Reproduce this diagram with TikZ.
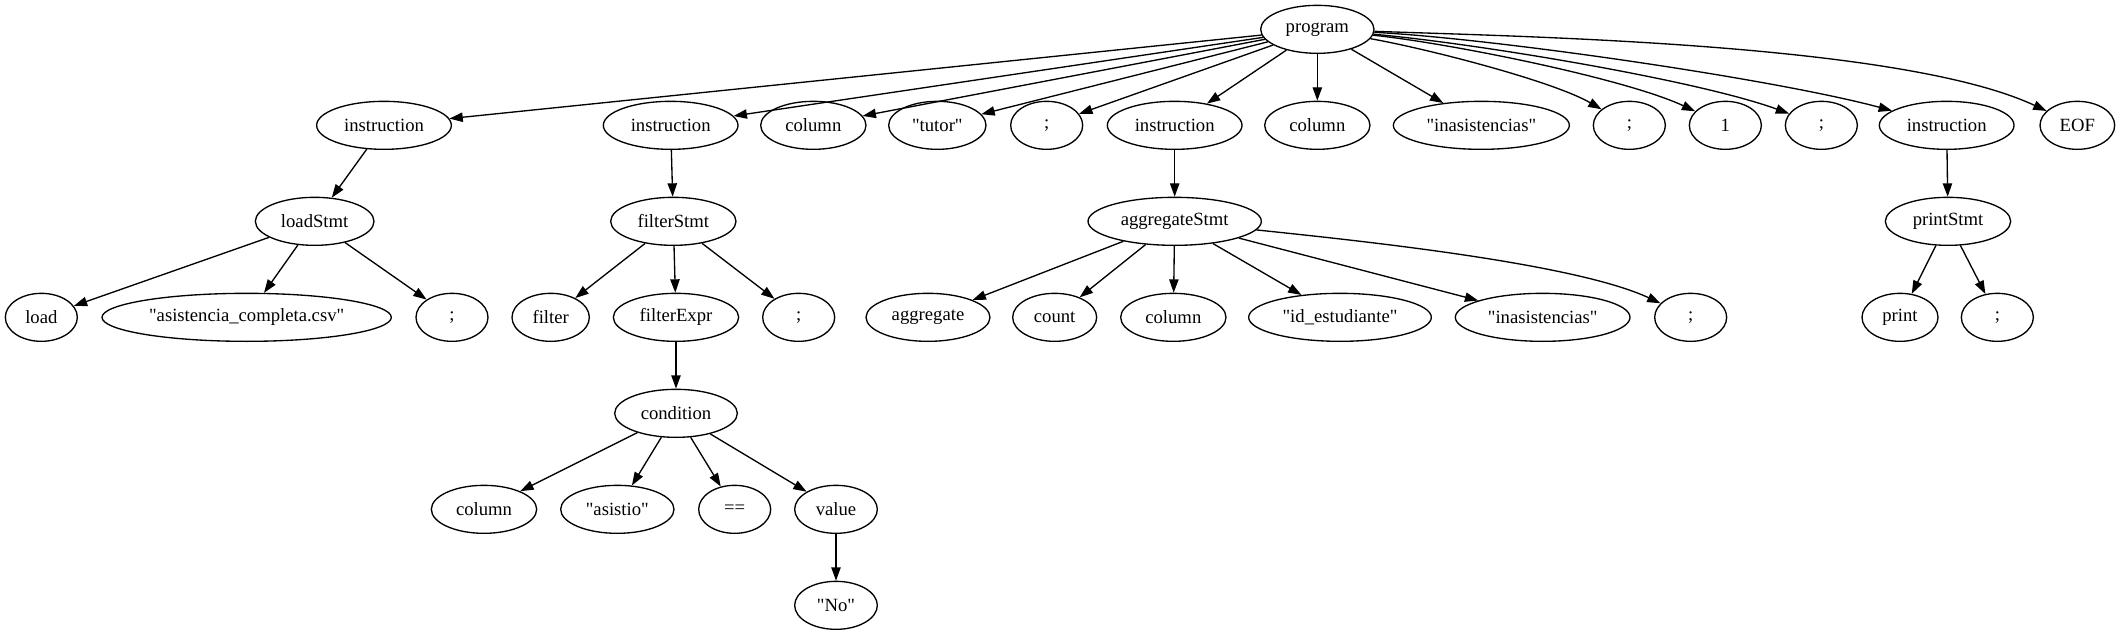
\documentclass[tikz,border=0pt]{standalone}
\usepackage{fontspec}
\newfontfamily\gvfont{Liberation Serif}
\usetikzlibrary{shapes.geometric,arrows.meta}

\tikzset{
  tok/.style={
    draw,
    ellipse,
    line width=1pt,
    inner sep=0pt,
    minimum height=36pt,
    minimum width=#1,
    font=\gvfont\fontsize{14}{16}\selectfont
  },
  tok/.default=54pt,
  arr/.style={line width=1pt, -{Triangle[length=10pt,width=7pt]}}
}

\begin{document}
\begin{tikzpicture}[x=1pt,y=1pt]
  \useasboundingbox (0,0) rectangle (1590,-476);

  % root
  \node[tok=85pt] (program) at (988,-22) {program};

  % rank 1
  \node[tok=101pt] (ins1) at (288,-94) {instruction};
  \node[tok=101pt] (ins2) at (503,-94) {instruction};
  \node[tok=79pt] (col1) at (610,-94) {column};
  \node[tok=73pt] (tutor) at (703,-94) {"tutor"};
  \node[tok] (semi1) at (785,-94) {;};
  \node[tok=101pt] (ins3) at (881,-94) {instruction};
  \node[tok=79pt] (col2) at (988,-94) {column};
  \node[tok=132pt] (inas1) at (1111,-94) {"inasistencias"};
  \node[tok] (semi2) at (1222,-94) {;};
  \node[tok] (one) at (1294,-94) {1};
  \node[tok] (semi3) at (1366,-94) {;};
  \node[tok=101pt] (ins4) at (1460,-94) {instruction};
  \node[tok=56pt] (eof) at (1558,-94) {EOF};

  % rank 2
  \node[tok=89pt] (loadStmt) at (236,-166) {loadStmt};
  \node[tok=94pt] (filterStmt) at (505,-166) {filterStmt};
  \node[tok=130pt] (aggStmt) at (881,-166) {aggregateStmt};
  \node[tok=94pt] (printStmt) at (1461,-166) {printStmt};

  % rank 3
  \node[tok] (load) at (31,-238) {load};
  \node[tok=217pt] (csv) at (185,-238) {"asistencia\_completa.csv"};
  \node[tok] (semi4) at (339,-238) {;};
  \node[tok=58pt] (filter) at (413,-238) {filter};
  \node[tok=94pt] (filterExpr) at (507,-238) {filterExpr};
  \node[tok] (semi5) at (599,-238) {;};
  \node[tok=93pt] (aggregate) at (696,-238) {aggregate};
  \node[tok=63pt] (count) at (791,-238) {count};
  \node[tok=79pt] (col3) at (880,-238) {column};
  \node[tok=137pt] (idEst) at (1005,-238) {"id\_estudiante"};
  \node[tok=131pt] (inas2) at (1157,-238) {"inasistencias"};
  \node[tok] (semi6) at (1268,-238) {;};
  \node[tok=57pt] (print) at (1425,-238) {print};
  \node[tok] (semi7) at (1498,-238) {;};

  % rank 4 to 6
  \node[tok=92pt] (condition) at (507,-310) {condition};
  \node[tok=79pt] (col4) at (363,-382) {column};
  \node[tok=85pt] (asistio) at (463,-382) {"asistio"};
  \node[tok] (eq) at (551,-382) {==};
  \node[tok=62pt] (value) at (627,-382) {value};
  \node[tok=62pt] (no) at (627,-454) {"No"};

  % edges from program
  \foreach \n in {ins1,ins2,col1,tutor,semi1,ins3,col2,inas1}
    \draw[arr] (program) -- (\n);
  \draw[arr] (program) to[out=-10,in=150,looseness=0.6] (semi2);
  \draw[arr] (program) to[out=-6,in=155,looseness=0.6] (one);
  \draw[arr] (program) to[out=-5,in=160,looseness=0.6] (semi3);
  \draw[arr] (program) to[out=-3,in=165,looseness=0.6] (ins4);
  \draw[arr] (program) to[out=-2,in=155,looseness=0.6] (eof);

  % statements
  \draw[arr] (ins1) -- (loadStmt);
  \draw[arr] (ins2) -- (filterStmt);
  \draw[arr] (ins3) -- (aggStmt);
  \draw[arr] (ins4) -- (printStmt);

  \foreach \n in {load,csv,semi4}
    \draw[arr] (loadStmt) -- (\n);
  \foreach \n in {filter,filterExpr,semi5}
    \draw[arr] (filterStmt) -- (\n);
  \foreach \n in {aggregate,count,col3,idEst,inas2}
    \draw[arr] (aggStmt) -- (\n);
  \draw[arr] (aggStmt) to[out=-6,in=155,looseness=0.6] (semi6);
  \foreach \n in {print,semi7}
    \draw[arr] (printStmt) -- (\n);

  % condition subtree
  \draw[arr] (filterExpr) -- (condition);
  \foreach \n in {col4,asistio,eq,value}
    \draw[arr] (condition) -- (\n);
  \draw[arr] (value) -- (no);
\end{tikzpicture}
\end{document}
